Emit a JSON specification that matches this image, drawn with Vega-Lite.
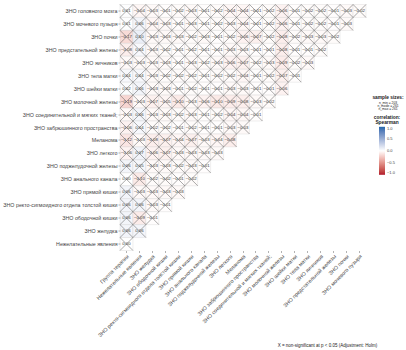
{
  "$schema": "https://vega.github.io/schema/vega-lite/v6.json",
  "width": 246,
  "height": 246,
  "autosize": "none",
  "padding": {"left": 120, "top": 4.5, "right": 40, "bottom": 99.5},
  "background": "white",
  "config": {"view": {"stroke": null}, "font": "Liberation Sans"},
  "title": {
    "text": "sample sizes:",
    "subtitle": ["n_min = 203", "n_mode = 261", "n_max = 261"],
    "fontSize": 4.8,
    "fontWeight": "bold",
    "subtitleFontSize": 3.3,
    "subtitlePadding": 0.5,
    "subtitleLineHeight": 3.3,
    "anchor": "start",
    "frame": "group",
    "align": "center",
    "dx": 268,
    "dy": 111,
    "color": "#222",
    "subtitleColor": "#222"
  },
  "datasets": {
    "vars": [
      {"k": 1, "name": "Группа терапии"},
      {"k": 2, "name": "Нежелательные явления"},
      {"k": 3, "name": "ЗНО желудка"},
      {"k": 4, "name": "ЗНО ободочной кишки"},
      {"k": 5, "name": "ЗНО ректо-сигмоидного отдела толстой кишки"},
      {"k": 6, "name": "ЗНО прямой кишки"},
      {"k": 7, "name": "ЗНО анального канала"},
      {"k": 8, "name": "ЗНО поджелудочной железы"},
      {"k": 9, "name": "ЗНО легкого"},
      {"k": 10, "name": "Меланома"},
      {"k": 11, "name": "ЗНО забрюшинного пространства"},
      {"k": 12, "name": "ЗНО соединительной и мягких тканей;"},
      {"k": 13, "name": "ЗНО молочной железы"},
      {"k": 14, "name": "ЗНО шейки матки"},
      {"k": 15, "name": "ЗНО тела матки"},
      {"k": 16, "name": "ЗНО яичников"},
      {"k": 17, "name": "ЗНО предстательной железы"},
      {"k": 18, "name": "ЗНО почки"},
      {"k": 19, "name": "ЗНО мочевого пузыря"},
      {"k": 20, "name": "ЗНО головного мозга"}
    ],
    "cells": [
      {"a":20,"b":1,"r":0.01},{"a":20,"b":2,"r":-0.04},{"a":20,"b":3,"r":-0.03},{"a":20,"b":4,"r":-0.01},{"a":20,"b":5,"r":-0.02},{"a":20,"b":6,"r":-0.03},{"a":20,"b":7,"r":-0.01},{"a":20,"b":8,"r":-0.02},{"a":20,"b":9,"r":-0.04},{"a":20,"b":10,"r":-0.04},{"a":20,"b":11,"r":-0.01},{"a":20,"b":12,"r":-0.02},{"a":20,"b":13,"r":-0.06},{"a":20,"b":14,"r":-0.01},{"a":20,"b":15,"r":-0.02},{"a":20,"b":16,"r":-0.02},{"a":20,"b":17,"r":-0.01},{"a":20,"b":18,"r":-0.03},{"a":20,"b":19,"r":-0.02},
      {"a":19,"b":1,"r":0.01},{"a":19,"b":2,"r":0.06},{"a":19,"b":3,"r":-0.04},{"a":19,"b":4,"r":-0.03},{"a":19,"b":5,"r":-0.01},{"a":19,"b":6,"r":-0.03},{"a":19,"b":7,"r":-0.01},{"a":19,"b":8,"r":-0.02},{"a":19,"b":9,"r":-0.03},{"a":19,"b":10,"r":-0.04},{"a":19,"b":11,"r":-0.01},{"a":19,"b":12,"r":-0.02},{"a":19,"b":13,"r":-0.06},{"a":19,"b":14,"r":-0.01},{"a":19,"b":15,"r":-0.02},{"a":19,"b":16,"r":-0.02},{"a":19,"b":17,"r":-0.01},{"a":19,"b":18,"r":-0.03},
      {"a":18,"b":1,"r":-0.17},{"a":18,"b":2,"r":0.1},{"a":18,"b":3,"r":-0.03},{"a":18,"b":4,"r":-0.03},{"a":18,"b":5,"r":-0.03},{"a":18,"b":6,"r":-0.02},{"a":18,"b":7,"r":-0.03},{"a":18,"b":8,"r":-0.01},{"a":18,"b":9,"r":-0.02},{"a":18,"b":10,"r":-0.06},{"a":18,"b":11,"r":-0.07},{"a":18,"b":12,"r":-0.02},{"a":18,"b":13,"r":-0.08},{"a":18,"b":14,"r":-0.02},{"a":18,"b":15,"r":-0.03},{"a":18,"b":16,"r":-0.03},{"a":18,"b":17,"r":-0.02},
      {"a":17,"b":1,"r":-0.08},{"a":17,"b":2,"r":0.04},{"a":17,"b":3,"r":-0.03},{"a":17,"b":4,"r":-0.02},{"a":17,"b":5,"r":-0.01},{"a":17,"b":6,"r":-0.02},{"a":17,"b":7,"r":-0.01},{"a":17,"b":8,"r":-0.01},{"a":17,"b":9,"r":-0.03},{"a":17,"b":10,"r":-0.03},{"a":17,"b":11,"r":-0.01},{"a":17,"b":12,"r":-0.01},{"a":17,"b":13,"r":-0.08},{"a":17,"b":14,"r":-0.01},{"a":17,"b":15,"r":-0.01},{"a":17,"b":16,"r":-0.02},
      {"a":16,"b":1,"r":-0.03},{"a":16,"b":2,"r":-0.03},{"a":16,"b":3,"r":-0.03},{"a":16,"b":4,"r":-0.03},{"a":16,"b":5,"r":-0.01},{"a":16,"b":6,"r":-0.03},{"a":16,"b":7,"r":-0.02},{"a":16,"b":8,"r":-0.03},{"a":16,"b":9,"r":-0.06},{"a":16,"b":10,"r":-0.07},{"a":16,"b":11,"r":-0.02},{"a":16,"b":12,"r":-0.03},{"a":16,"b":13,"r":-0.09},{"a":16,"b":14,"r":-0.02},{"a":16,"b":15,"r":-0.03},
      {"a":15,"b":1,"r":0.04},{"a":15,"b":2,"r":0.04},{"a":15,"b":3,"r":-0.03},{"a":15,"b":4,"r":-0.02},{"a":15,"b":5,"r":-0.02},{"a":15,"b":6,"r":-0.02},{"a":15,"b":7,"r":-0.01},{"a":15,"b":8,"r":-0.02},{"a":15,"b":9,"r":-0.02},{"a":15,"b":10,"r":-0.04},{"a":15,"b":11,"r":-0.01},{"a":15,"b":12,"r":-0.02},{"a":15,"b":13,"r":-0.07},{"a":15,"b":14,"r":-0.01},
      {"a":14,"b":1,"r":0.02},{"a":14,"b":2,"r":0.06},{"a":14,"b":3,"r":-0.03},{"a":14,"b":4,"r":-0.03},{"a":14,"b":5,"r":-0.01},{"a":14,"b":6,"r":-0.02},{"a":14,"b":7,"r":-0.01},{"a":14,"b":8,"r":-0.01},{"a":14,"b":9,"r":-0.03},{"a":14,"b":10,"r":-0.03},{"a":14,"b":11,"r":-0.01},{"a":14,"b":12,"r":-0.01},{"a":14,"b":13,"r":-0.06},
      {"a":13,"b":1,"r":-0.19},{"a":13,"b":2,"r":-0.03},{"a":13,"b":3,"r":-0.07},{"a":13,"b":4,"r":-0.05},{"a":13,"b":5,"r":-0.1},{"a":13,"b":6,"r":-0.03},{"a":13,"b":7,"r":-0.06},{"a":13,"b":8,"r":-0.1},{"a":13,"b":9,"r":-0.09},{"a":13,"b":10,"r":-0.08},{"a":13,"b":11,"r":-0.03},{"a":13,"b":12,"r":-0.02},
      {"a":12,"b":1,"r":-0.03},{"a":12,"b":2,"r":0.06},{"a":12,"b":3,"r":-0.03},{"a":12,"b":4,"r":-0.03},{"a":12,"b":5,"r":-0.02},{"a":12,"b":6,"r":-0.03},{"a":12,"b":7,"r":-0.01},{"a":12,"b":8,"r":-0.02},{"a":12,"b":9,"r":-0.04},{"a":12,"b":10,"r":-0.04},{"a":12,"b":11,"r":-0.01},
      {"a":11,"b":1,"r":-0.06},{"a":11,"b":2,"r":0.04},{"a":11,"b":3,"r":-0.02},{"a":11,"b":4,"r":-0.02},{"a":11,"b":5,"r":-0.01},{"a":11,"b":6,"r":-0.02},{"a":11,"b":7,"r":-0.01},{"a":11,"b":8,"r":-0.01},{"a":11,"b":9,"r":-0.03},{"a":11,"b":10,"r":-0.03},
      {"a":10,"b":1,"r":-0.12},{"a":10,"b":2,"r":-0.03},{"a":10,"b":3,"r":-0.08},{"a":10,"b":4,"r":-0.07},{"a":10,"b":5,"r":-0.04},{"a":10,"b":6,"r":-0.07},{"a":10,"b":7,"r":-0.03},{"a":10,"b":8,"r":-0.04},{"a":10,"b":9,"r":-0.08},
      {"a":9,"b":1,"r":-0.06},{"a":9,"b":2,"r":0.07},{"a":9,"b":3,"r":-0.06},{"a":9,"b":4,"r":-0.07},{"a":9,"b":5,"r":-0.03},{"a":9,"b":6,"r":-0.03},{"a":9,"b":7,"r":-0.03},{"a":9,"b":8,"r":-0.03},
      {"a":8,"b":1,"r":0.06},{"a":8,"b":2,"r":0.05},{"a":8,"b":3,"r":-0.03},{"a":8,"b":4,"r":-0.03},{"a":8,"b":5,"r":-0.02},{"a":8,"b":6,"r":-0.03},{"a":8,"b":7,"r":-0.01},
      {"a":7,"b":1,"r":0.0},{"a":7,"b":2,"r":-0.1},{"a":7,"b":3,"r":-0.02},{"a":7,"b":4,"r":-0.02},{"a":7,"b":5,"r":-0.01},{"a":7,"b":6,"r":-0.02},
      {"a":6,"b":1,"r":0.06},{"a":6,"b":2,"r":-0.03},{"a":6,"b":3,"r":-0.03},{"a":6,"b":4,"r":-0.03},{"a":6,"b":5,"r":-0.03},
      {"a":5,"b":1,"r":0.06},{"a":5,"b":2,"r":0.06},{"a":5,"b":3,"r":-0.03},{"a":5,"b":4,"r":-0.01},
      {"a":4,"b":1,"r":0.06},{"a":4,"b":2,"r":-0.09},{"a":4,"b":3,"r":-0.01},
      {"a":3,"b":1,"r":0.06},{"a":3,"b":2,"r":0.06},
      {"a":2,"b":1,"r":0.0}
    ]
  },
  "data": {"name": "cells"},
  "transform": [
    {"lookup": "a", "from": {"data": {"name": "vars"}, "key": "k", "fields": ["name"]}, "as": ["rowName"]},
    {"lookup": "b", "from": {"data": {"name": "vars"}, "key": "k", "fields": ["name"]}, "as": ["colName"]}
  ],
  "encoding": {
    "x": {
      "field": "colName", "type": "ordinal",
      "scale": {"paddingInner": 0, "paddingOuter": 0, "domain": ["Группа терапии","Нежелательные явления","ЗНО желудка","ЗНО ободочной кишки","ЗНО ректо-сигмоидного отдела толстой кишки","ЗНО прямой кишки","ЗНО анального канала","ЗНО поджелудочной железы","ЗНО легкого","Меланома","ЗНО забрюшинного пространства","ЗНО соединительной и мягких тканей;","ЗНО молочной железы","ЗНО шейки матки","ЗНО тела матки","ЗНО яичников","ЗНО предстательной железы","ЗНО почки","ЗНО мочевого пузыря"]},
      "axis": {
        "title": "X = non-significant at p < 0.05 (Adjustment: Holm)",
        "titleFontSize": 4.5, "titleFontWeight": "normal", "titleColor": "#222",
        "titleX": 207, "titleY": 92, "titleAlign": "center",
        "labelAngle": -45, "labelFontSize": 5.3, "labelColor": "#444",
        "labelPadding": 1, "tickSize": 2, "tickColor": "#666", "tickWidth": 0.5,
        "domain": false, "grid": false, "labelOverlap": false, "labelLimit": 0
      }
    },
    "y": {
      "field": "rowName", "type": "ordinal",
      "scale": {"paddingInner": 0, "paddingOuter": 0, "domain": ["ЗНО головного мозга","ЗНО мочевого пузыря","ЗНО почки","ЗНО предстательной железы","ЗНО яичников","ЗНО тела матки","ЗНО шейки матки","ЗНО молочной железы","ЗНО соединительной и мягких тканей;","ЗНО забрюшинного пространства","Меланома","ЗНО легкого","ЗНО поджелудочной железы","ЗНО анального канала","ЗНО прямой кишки","ЗНО ректо-сигмоидного отдела толстой кишки","ЗНО ободочной кишки","ЗНО желудка","Нежелательные явления"]},
      "axis": {
        "title": null, "labelFontSize": 5.3, "labelColor": "#444",
        "labelPadding": 1, "tickSize": 2, "tickColor": "#666", "tickWidth": 0.5,
        "domain": false, "grid": false, "labelOverlap": false, "labelLimit": 0
      }
    }
  },
  "layer": [
    {
      "mark": {"type": "rect", "stroke": "#c8c8c8", "strokeWidth": 0.3},
      "encoding": {
        "color": {
          "field": "r", "type": "quantitative",
          "scale": {"domain": [-1, 0, 1], "range": ["#B2182B", "#FFFFFF", "#2166AC"], "interpolate": "lab"},
          "legend": {
            "title": ["correlation:", "Spearman"],
            "titleFontSize": 4.8, "titleFontWeight": "bold", "titleColor": "#222",
            "titleAnchor": "middle", "titlePadding": 2, "titleLineHeight": 5.5,
            "orient": "none", "legendX": 254, "legendY": 110,
            "direction": "vertical", "gradientLength": 48, "gradientThickness": 6,
            "values": [-1, -0.5, 0, 0.5, 1], "format": ".1f",
            "labelFontSize": 4, "labelColor": "#444", "tickCount": 5
          }
        }
      }
    },
    {
      "mark": {"type": "text", "fontSize": 4.3, "color": "#333"},
      "encoding": {"text": {"field": "r", "type": "quantitative", "format": ".2f"}}
    },
    {
      "mark": {"type": "point", "shape": "M-1,-1L1,1M1,-1L-1,1", "filled": false, "size": 168, "stroke": "#555", "strokeWidth": 0.5, "opacity": 1},
      "encoding": {}
    }
  ]
}
